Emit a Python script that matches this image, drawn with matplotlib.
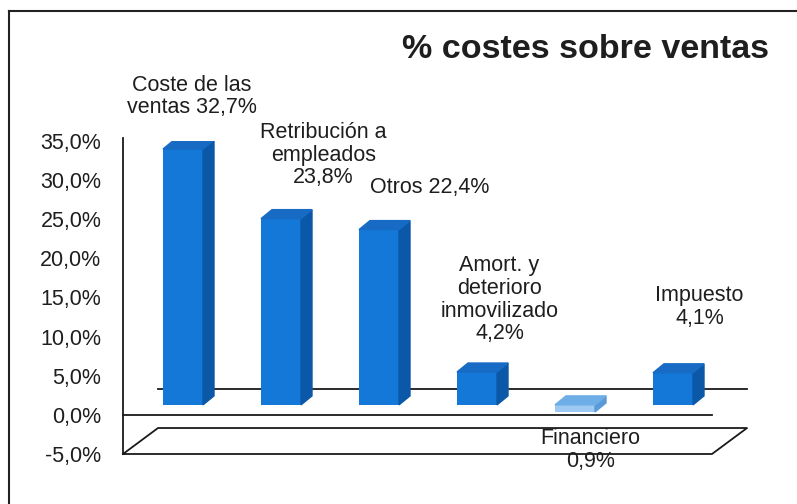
import matplotlib
matplotlib.use("Agg")
import matplotlib.pyplot as plt
from matplotlib.patches import Polygon
from matplotlib.lines import Line2D
from matplotlib.ticker import FuncFormatter

plt.rcParams['font.family'] = ['Liberation Sans', 'DejaVu Sans']

# data
names = ["Coste de las\nventas", "Retribución a\nempleados", "Otros",
         "Amort. y\ndeterioro\ninmovilizado", "Financiero", "Impuesto"]
seps = [" ", "\n", " ", "\n", "\n", "\n"]
values = [32.7, 23.8, 22.4, 4.2, -0.9, 4.1]
yticks = [-5, 0, 5, 10, 15, 20, 25, 30, 35]

# label anchors (x in category units, y in %)
label_pos = [(0.09, 40.7), (1.43, 33.2), (2.52, 29.0),
             (3.23, 14.7), (4.16, -4.5), (5.27, 13.8)]

front_c = "#1478d8"
side_c = "#0b57a8"
top_c = "#176bc4"
neg_front = "#9ccaf2"
neg_side = "#5a9ad8"
neg_top = "#6eaee6"
txt_c = "#1e1e1e"

W, H = 797, 504
fig = plt.figure(figsize=(W / 100, H / 100), dpi=100)
# axes: pixel x 123..747, y 141 (35%) .. 454 (-5%)
ax = fig.add_axes([123 / W, (H - 454) / H, 624 / W, 313 / H])
px = 98.0   # pixels per category
py = 7.83   # pixels per percent
xmin = (123 - 183) / px
xmax = (747 - 183) / px
ax.set_xlim(xmin, xmax)
ax.set_ylim(-5, 35)

for s in ["top", "right", "bottom"]:
    ax.spines[s].set_visible(False)
ax.spines["left"].set_linewidth(1.3)
ax.spines["left"].set_color("#1a1a1a")
ax.spines["left"].set_bounds(-5, 35.4)
ax.set_xticks([])
ax.set_yticks(yticks)
ax.yaxis.set_major_formatter(FuncFormatter(lambda v, p: f"{v:.1f}%".replace(".", ",")))
ax.tick_params(axis="y", length=0, pad=15.5, labelsize=15.5, labelcolor=txt_c)

# floor and zero planes
dX = 35 / px
dY = 26 / py
lk = dict(color="#1a1a1a", lw=1.3, clip_on=False)
ax.plot([xmin, xmin + dX, xmax, xmax - dX, xmin],
        [-5, -5 + dY, -5 + dY, -5, -5], **lk)
ax.plot([xmin, xmax - dX], [0, 0], **lk)
ax.plot([xmin + dX, xmax], [dY, dY], **lk)

# 3D bars
base = 10 / py
w = 40 / px
dx = 11 / px
dy = 9 / py
for i, v in enumerate(values):
    neg = v < 0
    fc, sc, tc = (neg_front, neg_side, neg_top) if neg else (front_c, side_c, top_c)
    ax.bar(i, v, bottom=base, width=w, color=fc, zorder=3)
    xl, xr = i - w / 2, i + w / 2
    lo, hi = min(base, base + v), max(base, base + v)
    ax.add_patch(Polygon([(xr, lo), (xr + dx, lo + dy), (xr + dx, hi + dy), (xr, hi)],
                         closed=True, color=sc, zorder=3))
    ax.add_patch(Polygon([(xl, hi), (xl + dx, hi + dy), (xr + dx, hi + dy), (xr, hi)],
                         closed=True, color=tc, zorder=3))

# labels
for name, sep, v, (lx, ly) in zip(names, seps, values, label_pos):
    txt = name + sep + f"{abs(v):.1f}%".replace(".", ",")
    ax.text(lx, ly, txt, ha="center", va="center", fontsize=15.5,
            color=txt_c, clip_on=False, linespacing=1.1)

fig.text(585 / W, 1 - 58 / H, "% costes sobre ventas", ha="center", va="baseline",
         fontsize=24.5, fontweight="bold", color=txt_c)

# outer frame (cut at right and bottom)
fig.add_artist(Line2D([9 / W, 9 / W], [0, 1 - 11 / H], color="#222222", lw=1.5))
fig.add_artist(Line2D([9 / W, 1], [1 - 11 / H, 1 - 11 / H], color="#222222", lw=1.5))

fig.savefig("out.png", dpi=100)
